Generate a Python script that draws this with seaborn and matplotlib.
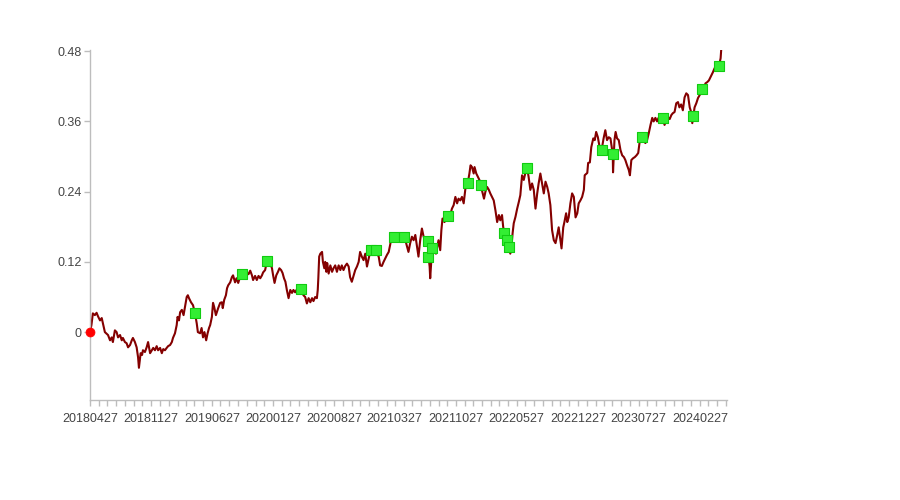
import numpy as np
import pandas as pd
import matplotlib
matplotlib.use("Agg")
import matplotlib.pyplot as plt
import matplotlib.dates as mdates
import seaborn as sns

# ---------------- data ----------------
start_date = "2018-04-27"

# observation time, in days after start_date
day_offsets = [
    0, 5, 10, 17, 23, 28, 35, 41, 45, 52, 63, 70, 76, 80, 87, 93, 98, 105, 111, 115,
    122, 128, 133, 140, 146, 150, 157, 163, 168, 171, 177, 182, 185, 192, 198, 203, 210, 216, 221, 227,
    233, 238, 245, 251, 256, 262, 268, 273, 280, 286, 290, 297, 303, 306, 311, 315, 321, 327, 332, 338,
    342, 346, 353, 360, 367, 373, 377, 385, 390, 395, 400, 406, 411, 416, 420, 426, 430, 434, 440, 448,
    455, 461, 464, 469, 475, 479, 483, 490, 496, 500, 507, 512, 518, 523, 528, 535, 548, 554, 560, 566,
    570, 577, 583, 589, 595, 601, 605, 612, 618, 620, 630, 636, 640, 645, 651, 657, 662, 668, 673, 678,
    683, 688, 694, 700, 706, 711, 717, 723, 729, 736, 742, 746, 752, 758, 764, 770, 776, 781, 787, 793,
    796, 798, 801, 805, 811, 814, 819, 822, 826, 829, 834, 840, 846, 851, 857, 863, 869, 875, 880, 886,
    892, 898, 904, 909, 915, 921, 927, 933, 939, 944, 950, 956, 962, 968, 974, 979, 983, 990, 999, 1003,
    1009, 1014, 1020, 1026, 1032, 1038, 1044, 1049, 1055, 1061, 1067, 1073, 1078, 1084, 1090, 1095, 1099, 1108, 1113, 1119,
    1125, 1131, 1137, 1143, 1148, 1154, 1160, 1166, 1172, 1177, 1182, 1183, 1187, 1189, 1193, 1197, 1204, 1209, 1214, 1218,
    1224, 1228, 1232, 1239, 1245, 1250, 1259, 1265, 1271, 1277, 1283, 1288, 1294, 1300, 1306, 1312, 1320, 1326, 1330, 1335,
    1341, 1344, 1350, 1356, 1361, 1365, 1371, 1377, 1382, 1388, 1394, 1399, 1405, 1411, 1417, 1423, 1429, 1434, 1440, 1444,
    1448, 1452, 1456, 1461, 1463, 1469, 1473, 1477, 1481, 1487, 1493, 1499, 1504, 1510, 1516, 1522, 1528, 1533, 1539, 1545,
    1551, 1557, 1563, 1568, 1574, 1580, 1586, 1592, 1598, 1603, 1609, 1615, 1621, 1627, 1633, 1638, 1644, 1648, 1654, 1658,
    1664, 1668, 1673, 1679, 1685, 1691, 1697, 1703, 1708, 1714, 1720, 1726, 1729, 1738, 1741, 1747, 1752, 1759, 1764, 1769,
    1775, 1780, 1788, 1795, 1801, 1807, 1813, 1819, 1827, 1828, 1833, 1837, 1842, 1848, 1854, 1860, 1866, 1871, 1877, 1883,
    1887, 1892, 1898, 1904, 1910, 1916, 1921, 1928, 1935, 1941, 1947, 1953, 1959, 1965, 1970, 1976, 1982, 1987, 1994, 2002,
    2008, 2014, 2020, 2026, 2032, 2037, 2043, 2049, 2055, 2060, 2066, 2072, 2078, 2084, 2090, 2096, 2101, 2105, 2109, 2113,
    2119, 2125, 2132, 2139, 2146, 2151, 2157, 2163, 2169, 2177, 2183, 2190, 2198, 2204, 2206,
]

cum_return = [
    0.000, 0.012, 0.032, 0.029, 0.033, 0.027, 0.020, 0.024, 0.015, 0.000, -0.005, -0.014, -0.009, -0.017, 0.003, 0.000, -0.009, -0.005, -0.014, -0.010,
    -0.017, -0.019, -0.026, -0.022, -0.014, -0.010, -0.017, -0.026, -0.043, -0.061, -0.036, -0.039, -0.031, -0.034, -0.026, -0.017, -0.036, -0.031, -0.027, -0.031,
    -0.024, -0.031, -0.027, -0.036, -0.029, -0.031, -0.027, -0.024, -0.022, -0.017, -0.010, -0.002, 0.012, 0.026, 0.020, 0.034, 0.038, 0.029, 0.043, 0.060,
    0.063, 0.058, 0.051, 0.046, 0.032, 0.015, 0.000, -0.002, 0.007, -0.009, 0.000, -0.014, -0.002, 0.007, 0.012, 0.026, 0.050, 0.043, 0.029, 0.041,
    0.050, 0.051, 0.041, 0.055, 0.063, 0.075, 0.080, 0.085, 0.094, 0.097, 0.085, 0.092, 0.084, 0.092, 0.099, 0.097, 0.102, 0.099, 0.105, 0.097,
    0.089, 0.096, 0.089, 0.096, 0.092, 0.097, 0.102, 0.106, 0.120, 0.123, 0.118, 0.109, 0.097, 0.084, 0.097, 0.103, 0.109, 0.106, 0.101, 0.092,
    0.086, 0.072, 0.058, 0.072, 0.067, 0.072, 0.068, 0.073, 0.069, 0.073, 0.068, 0.063, 0.060, 0.049, 0.058, 0.051, 0.058, 0.053, 0.060, 0.058,
    0.072, 0.092, 0.129, 0.134, 0.137, 0.120, 0.109, 0.120, 0.103, 0.118, 0.100, 0.114, 0.103, 0.109, 0.114, 0.103, 0.114, 0.106, 0.114, 0.106,
    0.113, 0.117, 0.112, 0.094, 0.086, 0.096, 0.106, 0.112, 0.120, 0.137, 0.129, 0.123, 0.134, 0.112, 0.126, 0.137, 0.141, 0.143, 0.140, 0.134,
    0.129, 0.114, 0.113, 0.120, 0.126, 0.132, 0.137, 0.149, 0.166, 0.163, 0.160, 0.154, 0.157, 0.154, 0.161, 0.157, 0.163, 0.146, 0.137, 0.152,
    0.163, 0.157, 0.166, 0.146, 0.129, 0.157, 0.177, 0.163, 0.157, 0.150, 0.155, 0.129, 0.112, 0.092, 0.123, 0.143, 0.140, 0.134, 0.147, 0.157,
    0.140, 0.174, 0.194, 0.188, 0.195, 0.198, 0.200, 0.211, 0.217, 0.231, 0.220, 0.228, 0.225, 0.231, 0.220, 0.245, 0.254, 0.271, 0.285, 0.282,
    0.271, 0.282, 0.271, 0.265, 0.260, 0.252, 0.240, 0.228, 0.240, 0.248, 0.243, 0.237, 0.231, 0.225, 0.208, 0.188, 0.200, 0.191, 0.200, 0.180,
    0.170, 0.163, 0.157, 0.140, 0.145, 0.134, 0.146, 0.169, 0.186, 0.197, 0.211, 0.223, 0.234, 0.268, 0.260, 0.273, 0.280, 0.265, 0.243, 0.254,
    0.243, 0.211, 0.237, 0.254, 0.271, 0.254, 0.237, 0.257, 0.248, 0.237, 0.217, 0.174, 0.157, 0.152, 0.166, 0.179, 0.157, 0.143, 0.179, 0.188,
    0.203, 0.188, 0.196, 0.220, 0.237, 0.231, 0.196, 0.203, 0.220, 0.225, 0.231, 0.243, 0.268, 0.272, 0.289, 0.290, 0.316, 0.331, 0.328, 0.342,
    0.333, 0.319, 0.311, 0.331, 0.345, 0.328, 0.333, 0.331, 0.304, 0.273, 0.328, 0.342, 0.331, 0.328, 0.311, 0.302, 0.299, 0.294, 0.285, 0.277,
    0.268, 0.294, 0.297, 0.299, 0.302, 0.306, 0.325, 0.333, 0.328, 0.323, 0.328, 0.340, 0.354, 0.366, 0.360, 0.366, 0.360, 0.366, 0.362, 0.366,
    0.354, 0.362, 0.367, 0.364, 0.371, 0.374, 0.376, 0.391, 0.393, 0.384, 0.389, 0.379, 0.401, 0.408, 0.405, 0.384, 0.376, 0.357, 0.371, 0.384,
    0.391, 0.400, 0.406, 0.415, 0.418, 0.425, 0.427, 0.430, 0.436, 0.444, 0.451, 0.451, 0.454, 0.468, 0.482,
]

# signal points (green squares)
signal_offsets = [368, 531, 620, 736, 983, 999, 1061, 1099, 1182, 1183, 1197, 1250, 1320,
                  1365, 1448, 1456, 1463, 1528, 1788, 1827, 1928, 2002, 2109, 2139, 2198]
signal_values = [0.032, 0.099, 0.122, 0.073, 0.141, 0.140, 0.163, 0.163, 0.155, 0.129, 0.143,
                 0.198, 0.254, 0.252, 0.170, 0.157, 0.145, 0.280, 0.311, 0.304, 0.333, 0.365,
                 0.370, 0.415, 0.454]

y_ticks = [0, 0.12, 0.24, 0.36, 0.48]
y_tick_labels = ["0", "0.12", "0.24", "0.36", "0.48"]
x_tick_labels = ["20180427", "20181127", "20190627", "20200127", "20200827", "20210327",
                 "20211027", "20220527", "20221227", "20230727", "20240227"]

# ---------------- build frames ----------------
t0 = pd.Timestamp(start_date)
df = pd.DataFrame({
    "date": t0 + pd.to_timedelta(day_offsets, unit="D"),
    "value": cum_return,
})
sig = pd.DataFrame({
    "date": t0 + pd.to_timedelta(signal_offsets, unit="D"),
    "value": signal_values,
})

sns.set_style("white")
plt.rcParams["font.family"] = ["Liberation Sans", "DejaVu Sans"]

fig = plt.figure(figsize=(9, 5), dpi=100)
ax = fig.add_axes([0.1, 0.2, 0.708, 0.7])

sns.lineplot(data=df, x="date", y="value", ax=ax, color="#840000", linewidth=1.5,
             estimator=None, sort=False, zorder=2)
sns.scatterplot(x=[df["date"].iloc[0]], y=[df["value"].iloc[0]], ax=ax, color="#ff0000",
                s=42, edgecolor="#ff0000", linewidth=0.5, zorder=4, clip_on=False)
sns.scatterplot(data=sig, x="date", y="value", ax=ax, marker="s", s=46,
                color="#33ee33", edgecolor="#11cc11", linewidth=0.8, zorder=3)

ax.set_xlim(t0, pd.Timestamp("2024-06-01"))
ax.set_ylim(-0.116, 0.482)

ax.set_yticks(y_ticks)
ax.set_yticklabels(y_tick_labels)
ax.set_xticks([pd.to_datetime(s, format="%Y%m%d") for s in x_tick_labels])
ax.set_xticklabels(x_tick_labels)
ax.xaxis.set_minor_locator(mdates.MonthLocator(bymonthday=27))

ax.set_xlabel("")
ax.set_ylabel("")

for side in ["top", "right"]:
    ax.spines[side].set_visible(False)
for side in ["left", "bottom"]:
    ax.spines[side].set_color("#bdbdbd")
    ax.spines[side].set_linewidth(1.0)

ax.tick_params(axis="both", which="both", direction="out", color="#bdbdbd",
               length=4, width=1.0, labelsize=9, labelcolor="#444444")
ax.tick_params(axis="x", which="both", bottom=True, pad=5)
ax.tick_params(axis="y", left=True, pad=2)
ax.grid(False)

fig.savefig("out.png", dpi=100, facecolor="white")
